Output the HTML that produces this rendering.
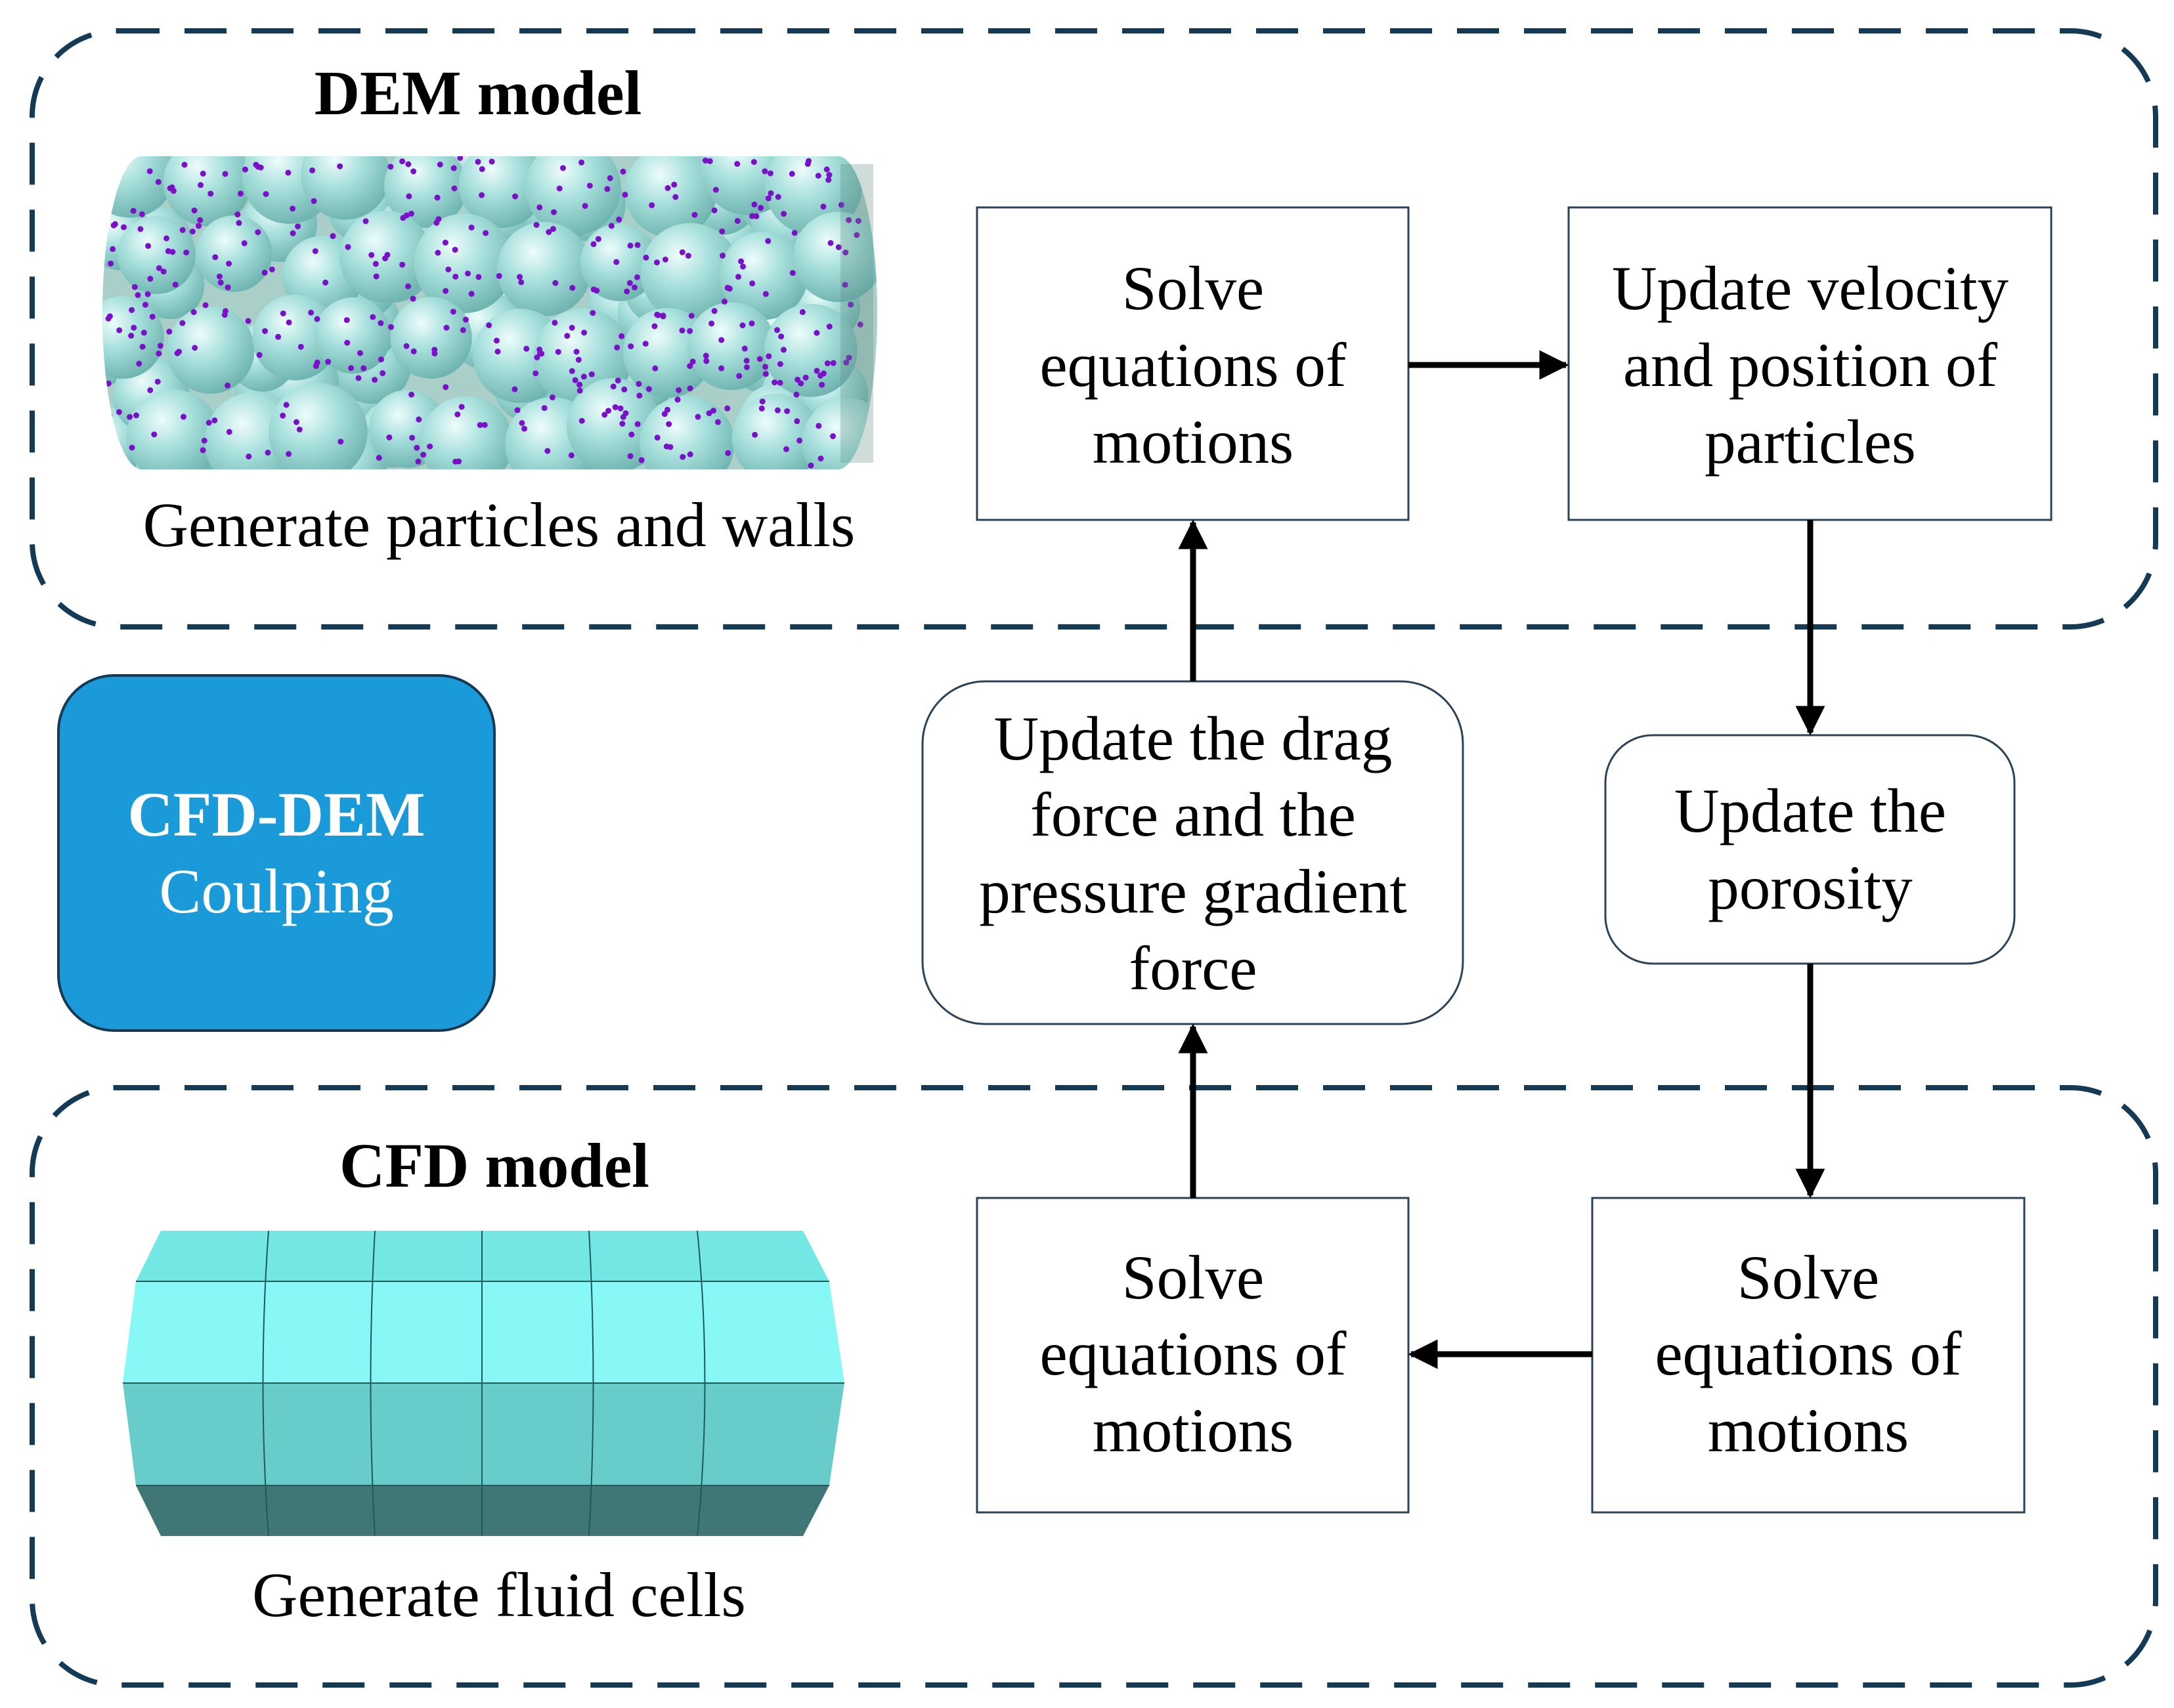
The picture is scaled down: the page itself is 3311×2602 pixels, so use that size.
<!DOCTYPE html>
<html><head><meta charset="utf-8"><style>
html,body{margin:0;padding:0;background:#fff}
svg{display:block}
text{font-family:"Liberation Serif",serif;fill:#000}
</style></head><body>
<svg id="s" width="3311" height="2602" viewBox="0 0 3311 2602" xmlns="http://www.w3.org/2000/svg">
<defs>
<radialGradient id="ball" cx="0.38" cy="0.32" r="0.7">
<stop offset="0" stop-color="#eefcfc"/><stop offset="0.45" stop-color="#a8e0dc"/><stop offset="1" stop-color="#6fb4b0"/>
</radialGradient>
<marker id="ah" viewBox="0 0 10 10" refX="9" refY="5" markerWidth="5" markerHeight="5" markerUnits="strokeWidth" orient="auto">
<path d="M0,0 L10,5 L0,10 z" fill="#000"/></marker>
<clipPath id="cyl"><rect x="156" y="238" width="1180" height="477" rx="60" ry="240"/></clipPath>
</defs>
<rect width="3311" height="2602" fill="#fff"/>
<rect x="49" y="47" width="3234" height="908" rx="130" fill="none" stroke="#143a55" stroke-width="8" stroke-dasharray="64 38"/>
<rect x="49" y="1657" width="3234" height="910" rx="130" fill="none" stroke="#143a55" stroke-width="8" stroke-dasharray="64 38"/>

<text x="728" y="174" font-size="96" font-weight="bold" text-anchor="middle">DEM model</text>
<text x="753" y="1808" font-size="96" font-weight="bold" text-anchor="middle">CFD model</text>

<g clip-path="url(#cyl)">
<rect x="156" y="238" width="1180" height="477" fill="#a9cfc8"/>
<g id="balls"></g>
<g id="dots" fill="#7a10c8"></g>
</g>
<rect x="1280" y="250" width="50" height="455" fill="#5f8a80" opacity="0.3"/>
<text x="760" y="832" font-size="96" text-anchor="middle" fill="#222">Generate particles and walls</text>

<polygon points="245,1875 1223,1875 1263,1952 207,1952" fill="#74e6e3"/>
<polygon points="207,1952 1263,1952 1286,2107 187,2107" fill="#88f8f7"/>
<polygon points="187,2107 1286,2107 1263,2263 207,2263" fill="#68cdca"/>
<polygon points="207,2263 1263,2263 1223,2340 245,2340" fill="#417676"/>
<g stroke="#1f5a5a" stroke-width="2" fill="none">
<path d="M207,1952H1263M187,2107H1286M207,2263H1263"/>
<path d="M409,1875 Q392,2107 409,2340M571,1875 Q558,2107 571,2340M734,1875V2340M897,1875 Q910,2107 897,2340M1062,1875 Q1085,2107 1062,2340"/>
</g>
<text x="760" y="2462" font-size="96" text-anchor="middle" fill="#222">Generate fluid cells</text>

<rect x="89" y="1029" width="664" height="541" rx="85" fill="#1a9ad8" stroke="#143a55" stroke-width="4"/>
<text x="421" y="1273" font-size="96" font-weight="bold" text-anchor="middle" style="fill:#fff">CFD-DEM</text>
<text x="421" y="1390" font-size="96" text-anchor="middle" style="fill:#fff">Coulping</text>

<g fill="#fff" stroke="#2b4259" stroke-width="3">
<rect x="1488" y="316" width="657" height="476"/>
<rect x="2389" y="316" width="735" height="476"/>
<rect x="2445" y="1120" width="623" height="348" rx="72"/>
<rect x="1405" y="1038" width="823" height="522" rx="95"/>
<rect x="1488" y="1825" width="657" height="479"/>
<rect x="2425" y="1825" width="658" height="479"/>
</g>
<g font-size="95" text-anchor="middle">
<text x="1817" y="471">Solve</text><text x="1817" y="588">equations of</text><text x="1817" y="705">motions</text>
<text x="2757" y="471">Update velocity</text><text x="2757" y="588">and position of</text><text x="2757" y="705">particles</text>
<text x="2757" y="1267">Update the</text><text x="2757" y="1384">porosity</text>
<text x="1817" y="1157">Update the drag</text><text x="1817" y="1273">force and the</text><text x="1817" y="1390">pressure gradient</text><text x="1817" y="1507">force</text>
<text x="1817" y="1978">Solve</text><text x="1817" y="2094">equations of</text><text x="1817" y="2211">motions</text>
<text x="2754" y="1978">Solve</text><text x="2754" y="2094">equations of</text><text x="2754" y="2211">motions</text>
</g>

<g stroke="#000" stroke-width="9" fill="none" marker-end="url(#ah)">
<line x1="2145" y1="556" x2="2385" y2="556"/>
<line x1="2757" y1="792" x2="2757" y2="1116"/>
<line x1="2757" y1="1468" x2="2757" y2="1821"/>
<line x1="2425" y1="2063" x2="2149" y2="2063"/>
<line x1="1817" y1="1825" x2="1817" y2="1564"/>
<line x1="1817" y1="1038" x2="1817" y2="796"/>
</g>
</svg>
<script>
(function(){
var seed=7;function r(){seed=(seed*16807)%2147483647;return seed/2147483647;}
var ns="http://www.w3.org/2000/svg",b=document.getElementById("balls"),d=document.getElementById("dots");
var L=[];
for(var i=0;i<60;i++){L.push([170+r()*1150,245+r()*465,50+r()*12]);}
for(var row=0;row<4;row++){for(var c=0;c<10;c++){
L.push([200+c*115+(row%2)*57+(r()-0.5)*40,275+row*128+(r()-0.5)*40,58+r()*18]);}}
L.forEach(function(p){var e=document.createElementNS(ns,"circle");e.setAttribute("cx",p[0]);e.setAttribute("cy",p[1]);e.setAttribute("r",p[2]);e.setAttribute("fill","url(#ball)");b.appendChild(e);});
for(var i=0;i<420;i++){var e=document.createElementNS(ns,"circle");e.setAttribute("cx",165+r()*1150);e.setAttribute("cy",240+r()*470);e.setAttribute("r",4.5);d.appendChild(e);}
})();
</script>
</body></html>
